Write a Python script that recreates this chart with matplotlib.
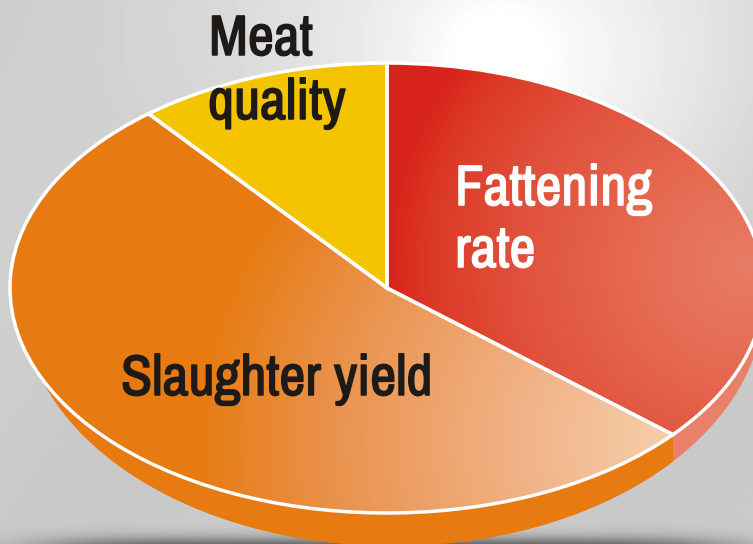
import numpy as np
import matplotlib
matplotlib.use("Agg")
import matplotlib.pyplot as plt
import matplotlib.patheffects as pe
from matplotlib.colors import LinearSegmentedColormap as LSC
from matplotlib.patches import Ellipse
from matplotlib.path import Path
from matplotlib.transforms import Affine2D

categories = ["Fattening rate", "Slaughter yield", "Meat quality"]
values = [36.3, 52.8, 10.9]
top_colors = ["#d8231a", "#e77a10", "#f5c400"]
side_colors = ["#e9806a", "#e77a10", "#f5c400"]
text_colors = ["white", "#1e1a17", "#1e1a17"]

W, H = 753, 544
CX, CY, RX, RY = 387.0, 288.0, 377.0, 225.0
SCX, SCY, SRX, SRY = 393.0, 300.0, 371.0, 246.0

fig = plt.figure(figsize=(W / 100, H / 100), dpi=100)
ax = fig.add_axes([0, 0, 1, 1])
limx = (-CX / RX, (W - CX) / RX)
limy = ((CY - H) / RY, CY / RY)
ext = (limx[0], limx[1], limy[0], limy[1])
yy, xx = np.mgrid[0:H, 0:W]


def to_x(px):
    return (px - CX) / RX


def to_y(py):
    return (CY - py) / RY


def show(arr, cmap, z, clip=None):
    im = ax.imshow(arr, extent=ext, origin="upper", aspect="auto", cmap=cmap,
                   vmin=0, vmax=1, zorder=z, interpolation="bilinear")
    if clip is not None:
        im.set_clip_path(clip)
    return im


def clip_lower(artist, right):
    # keep only the part of the wall below the pie's centre line, left of `right`
    tf = (Affine2D().scale(right - limx[0], -limy[0]).translate(limx[0], limy[0])
          + ax.transData)
    artist.set_clip_on(True)
    artist.set_clip_path(Path.unit_rectangle(), tf)


# background: grey with a soft white glow near the top and a floor shadow
bg = 0.80 + 0.012 * np.sin(xx / 90.0 + yy / 140.0)
glow = np.exp(-(((xx - 495) / 240.0) ** 2 + ((yy - 50) / 210.0) ** 2))
bg = bg + 0.18 * glow
spot = np.exp(-(((xx - 495) / 60.0) ** 2 + ((yy - 55) / 60.0) ** 2))
bg = bg + 0.05 * spot
shadow = np.exp(-((np.abs(xx - 387) / 350.0) ** 6 + (np.maximum(552 - yy, 0) / 14.0) ** 2))
bg = bg - 0.55 * shadow
show(np.clip(bg, 0, 1), "gray", 0)

# side wall: same shares, on a slightly narrower and deeper ellipse
side, _ = ax.pie(values, startangle=90, counterclock=False, colors=side_colors,
                 radius=1, center=(0, 0), wedgeprops=dict(linewidth=0))
side_tf = (Affine2D().scale(SRX / RX, SRY / RY)
           .translate(to_x(SCX), to_y(SCY)) + ax.transData)
for w in side:
    w.set_transform(side_tf)
    w.set_zorder(1)
    clip_lower(w, limx[1])
# the seam between red and orange runs straight down the wall
seam = CX + RX * np.sin(2 * np.pi * values[0] / sum(values))
cover = Ellipse((to_x(SCX), to_y(SCY)), 2 * SRX / RX, 2 * SRY / RY,
                facecolor=side_colors[1], linewidth=0, zorder=1.5)
ax.add_patch(cover)
clip_lower(cover, to_x(seam))

# top surface
top, _ = ax.pie(values, startangle=90, counterclock=False, colors=top_colors,
                radius=1, center=(0, 0), wedgeprops=dict(linewidth=0))
for w in top:
    w.set_zorder(2)

t_red = np.clip(np.hypot(xx - 745, (yy - 265) * 1.05) / 360.0, 0, 1)
red_map = LSC.from_list("r", [(0, "#e87c64"), (0.3, "#e66a52"), (0.65, "#e0503a"),
                              (0.87, "#dc3a28"), (1, "#d8231a")])
show(t_red, red_map, 3, top[0])

t_or = np.clip(np.hypot(xx - 690, (yy - 440) * 1.15) / 500.0, 0, 1)
or_map = LSC.from_list("o", [(0, "#f7d2ae"), (0.35, "#f1b286"), (0.7, "#ea9450"), (1, "#e77a10")])
show(t_or, or_map, 3, top[1])

outline, _ = ax.pie(values, startangle=90, counterclock=False,
                    colors=["none"] * 3, radius=1, center=(0, 0),
                    wedgeprops=dict(linewidth=2.5, edgecolor="white", facecolor="none"))
for w in outline:
    w.set_zorder(4)

ax.set_aspect("auto")
ax.set_xlim(limx)
ax.set_ylim(limy)
ax.axis("off")

font = ["Archivo Narrow", "Roboto Condensed", "Liberation Sans"]
labels = [
    ("Fattening", 455, 205, text_colors[0]),
    ("rate", 455, 267, text_colors[0]),
    ("Slaughter yield", 121, 395, text_colors[1]),
    ("Meat", 209, 55, text_colors[2]),
    ("quality", 208, 119, text_colors[2]),
]
for s, px, py, c in labels:
    t = fig.text(px / W, 1 - py / H, s, color=c, family=font, weight="bold",
                 fontsize=41, va="baseline", ha="left", zorder=10)
    t.set_path_effects([pe.withStroke(linewidth=1.1, foreground=c)])

fig.savefig("out.png", dpi=100)
